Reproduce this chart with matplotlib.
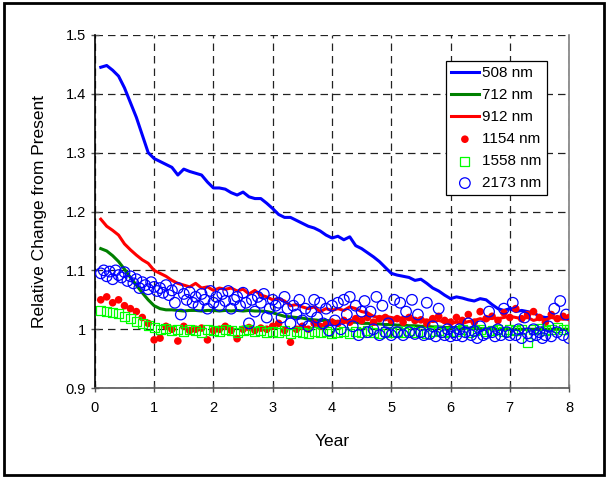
import numpy as np
import matplotlib
matplotlib.use("Agg")
import matplotlib.pyplot as plt
from matplotlib.patches import Rectangle
from matplotlib.ticker import FuncFormatter

plt.rcParams['font.family'] = ['Liberation Sans', 'DejaVu Sans']

# time grid (years) for the line series and the 1154 / 1558 nm points
years = np.round(np.arange(0.1, 8.01, 0.1), 2)
# finer grid for the 2173 nm points
years_fine = np.round(np.arange(0.1, 8.001, 0.05), 2)

nm508 = [1.445, 1.448, 1.440, 1.430, 1.410, 1.385, 1.360, 1.330, 1.300, 1.290,
         1.285, 1.280, 1.275, 1.262, 1.272, 1.268, 1.265, 1.262, 1.250, 1.240,
         1.240, 1.238, 1.232, 1.228, 1.233, 1.225, 1.222, 1.222, 1.214, 1.205,
         1.195, 1.190, 1.190, 1.185, 1.180, 1.175, 1.172, 1.167, 1.160, 1.155,
         1.158, 1.152, 1.157, 1.142, 1.137, 1.130, 1.123, 1.115, 1.105, 1.095,
         1.092, 1.090, 1.088, 1.083, 1.085, 1.078, 1.070, 1.065, 1.058, 1.052,
         1.055, 1.053, 1.050, 1.048, 1.052, 1.050, 1.042, 1.035, 1.032, 1.035,
         1.030, 1.032, 1.030, 1.028, 1.022, 1.020, 1.020]

nm712 = [1.137, 1.133, 1.125, 1.115, 1.102, 1.088, 1.075, 1.062, 1.050, 1.040,
         1.035, 1.033, 1.033, 1.032, 1.031, 1.032, 1.032, 1.031, 1.032, 1.032,
         1.031, 1.032, 1.031, 1.032, 1.031, 1.032, 1.031, 1.031, 1.030, 1.028,
         1.025, 1.022, 1.021, 1.020, 1.019, 1.017, 1.016, 1.015, 1.015, 1.014,
         1.013, 1.013, 1.012, 1.012, 1.010, 1.010, 1.009, 1.009, 1.008, 1.008,
         1.007, 1.007, 1.006, 1.006, 1.005, 1.005, 1.004, 1.004, 1.003, 1.003,
         1.003, 1.002, 1.002, 1.002, 1.001, 1.001, 1.001, 1.000, 1.000, 1.000,
         1.000, 1.000, 1.000, 1.000, 1.000, 1.000, 1.000, 1.000, 1.000, 1.000]

nm912 = [1.187, 1.175, 1.168, 1.160, 1.145, 1.135, 1.126, 1.118, 1.112, 1.100,
         1.095, 1.090, 1.083, 1.078, 1.075, 1.072, 1.078, 1.070, 1.072, 1.066,
         1.070, 1.068, 1.070, 1.065, 1.068, 1.060, 1.066, 1.058, 1.055, 1.050,
         1.052, 1.048, 1.040, 1.042, 1.038, 1.035, 1.038, 1.030, 1.035, 1.032,
         1.035, 1.032, 1.038, 1.035, 1.030, 1.028, 1.022, 1.020, 1.022, 1.020,
         1.018, 1.020, 1.017, 1.018, 1.015, 1.016, 1.013, 1.015, 1.012, 1.010,
         1.012, 1.010, 1.013, 1.015, 1.018, 1.015, 1.020, 1.018, 1.020, 1.022,
         1.020, 1.018, 1.020, 1.015, 1.018, 1.016, 1.020, 1.018, 1.017, 1.018]

nm1154 = [1.050, 1.055, 1.045, 1.050, 1.040, 1.035, 1.030, 1.020, 1.010, 0.982,
          0.985, 1.005, 1.000, 0.980, 1.005, 0.998, 1.000, 1.002, 0.982, 0.998,
          1.000, 1.005, 0.998, 0.984, 1.000, 1.003, 0.998, 1.002, 1.000, 1.005,
          1.010, 0.998, 0.978, 1.000, 1.005, 1.000, 1.010, 1.005, 1.008, 1.012,
          1.010, 1.015, 1.012, 1.018, 1.015, 1.020, 1.012, 1.018, 1.020, 1.015,
          1.018, 1.012, 1.020, 1.015, 1.016, 1.010, 1.018, 1.022, 1.015, 1.012,
          1.020, 1.015, 1.025, 1.012, 1.030, 1.018, 1.022, 1.015, 1.028, 1.020,
          1.035, 1.018, 1.025, 1.030, 1.020, 1.012, 1.025, 1.018, 1.022, 1.020]

nm1558 = [1.032, 1.030, 1.028, 1.026, 1.022, 1.018, 1.014, 1.010, 1.006, 1.003,
          1.000, 1.002, 0.998, 1.000, 0.997, 1.000, 0.998, 0.995, 1.000, 0.998,
          0.996, 1.000, 0.998, 0.995, 0.998, 1.000, 0.996, 0.998, 0.994, 0.997,
          0.995, 0.998, 0.993, 0.997, 0.995, 0.992, 0.996, 0.994, 0.997, 0.993,
          0.995, 0.997, 0.993, 0.996, 0.994, 0.998, 0.995, 0.993, 0.997, 0.995,
          0.996, 0.994, 0.998, 0.995, 0.997, 0.993, 0.996, 0.998, 0.995, 0.997,
          0.996, 0.999, 0.995, 0.998, 1.000, 0.996, 0.998, 1.000, 0.997, 1.000,
          0.998, 1.000, 0.978, 0.999, 1.002, 0.998, 1.000, 1.003, 0.999, 1.000]

nm2173 = [1.095, 1.100, 1.090, 1.098, 1.085, 1.100, 1.092, 1.088, 1.097, 1.082,
          1.090, 1.078, 1.085, 1.070, 1.080, 1.075, 1.068, 1.080, 1.072, 1.065,
          1.070, 1.062, 1.075, 1.058, 1.066, 1.045, 1.070, 1.025, 1.060, 1.050,
          1.063, 1.045, 1.055, 1.040, 1.060, 1.050, 1.035, 1.065, 1.045, 1.055,
          1.040, 1.060, 1.048, 1.065, 1.035, 1.050, 1.055, 1.040, 1.062, 1.045,
          1.010, 1.050, 1.030, 1.055, 1.045, 1.060, 1.020, 1.035, 1.050, 1.040,
          1.045, 1.020, 1.055, 1.035, 1.010, 1.040, 1.025, 1.050, 1.015, 1.035,
          1.005, 1.030, 1.050, 1.020, 1.045, 1.010, 1.035, 0.998, 1.040, 1.015,
          1.045, 1.000, 1.050, 1.025, 1.055, 1.005, 1.040, 0.990, 1.030, 1.048,
          0.995, 1.030, 1.000, 1.055, 0.990, 1.040, 0.995, 1.010, 0.990, 1.050,
          0.995, 1.045, 0.990, 1.030, 0.995, 1.050, 0.992, 1.025, 0.995, 0.990,
          1.045, 0.992, 1.005, 0.988, 1.035, 0.995, 0.990, 1.000, 0.988, 0.995,
          0.990, 1.000, 0.988, 0.995, 1.010, 0.990, 0.997, 0.985, 1.005, 0.990,
          0.993, 1.030, 0.995, 0.988, 1.000, 0.990, 1.035, 0.995, 0.990, 1.045,
          0.990, 1.000, 0.985, 1.020, 0.993, 0.988, 1.000, 0.990, 0.995, 0.985,
          0.990, 1.005, 0.988, 1.035, 0.995, 1.048, 0.990, 1.025, 0.985]

x_ticks = [0, 1, 2, 3, 4, 5, 6, 7, 8]
y_ticks = [0.9, 1.0, 1.1, 1.2, 1.3, 1.4, 1.5]

fig = plt.figure(figsize=(6.08, 4.78), dpi=100)
ax = fig.add_axes([0.156, 0.188, 0.780, 0.739])

# outer frame
fig.patches.append(Rectangle((0.006, 0.006), 0.987, 0.988, transform=fig.transFigure,
                             fill=False, edgecolor='black', linewidth=2))

ax.plot(years[:len(nm508)], nm508, color='#0000FF', lw=2.2, label='508 nm', zorder=3)
ax.plot(years, nm712, color='#008000', lw=2.2, label='712 nm', zorder=4)
ax.plot(years, nm912, color='#FF0000', lw=2.2, label='912 nm', zorder=5)
ax.scatter(years, nm1154, s=30, color='#FF0000', edgecolors='none', label='1154 nm', zorder=6)
ax.scatter(years, nm1558, s=42, marker='s', facecolors='none', edgecolors='#00FF00',
           linewidths=0.9, label='1558 nm', zorder=7)
ax.scatter(years_fine, nm2173, s=58, marker='o', facecolors='none', edgecolors='#0000FF',
           linewidths=0.9, label='2173 nm', zorder=8)

ax.set_xlim(0, 8)
ax.set_ylim(0.9, 1.5)
ax.set_xticks(x_ticks)
ax.set_yticks(y_ticks)
ax.yaxis.set_major_formatter(FuncFormatter(lambda v, p: '%g' % round(v, 2)))
ax.tick_params(direction='inout', length=6, width=1, labelsize=10.5, color='#555555')
ax.tick_params(axis='x', pad=6)
ax.grid(True, color='#222222', linestyle=(0, (6, 4)), linewidth=0.9)
ax.set_axisbelow(True)

ax.spines['top'].set_visible(False)
ax.spines['right'].set_color('#808080')
ax.spines['bottom'].set_color('#555555')
ax.spines['left'].set_color('black')
for s in ax.spines.values():
    s.set_linewidth(1.2)

ax.set_xlabel('Year', fontsize=12.5, labelpad=14)
ax.set_ylabel('Relative Change from Present', fontsize=12.5, labelpad=13)

leg = ax.legend(loc='upper left', bbox_to_anchor=(0.74, 0.926), borderaxespad=0,
                fancybox=False, edgecolor='black', framealpha=1, fontsize=11,
                handlelength=1.8, handletextpad=0.25, labelspacing=0.52, borderpad=0.35)
leg.get_frame().set_linewidth(0.9)

fig.savefig('out.png', dpi=100)
